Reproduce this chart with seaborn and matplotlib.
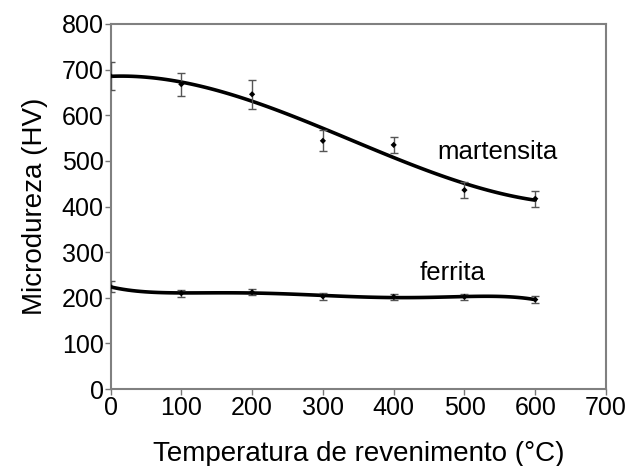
import matplotlib
matplotlib.use("Agg")
import matplotlib.pyplot as plt
import seaborn as sns
import numpy as np
import pandas as pd

# Tempering temperature (°C)
temperatura = [0, 100, 200, 300, 400, 500, 600]

# Microhardness (HV) and error bars
martensita_hv = [686, 668, 646, 544, 535, 436, 417]
martensita_err = [30, 25, 32, 23, 18, 18, 18]
ferrita_hv = [224, 210, 212, 203, 202, 202, 196]
ferrita_err = [12, 8, 7, 7, 7, 6, 7]

x_ticks = [0, 100, 200, 300, 400, 500, 600, 700]
y_ticks = [0, 100, 200, 300, 400, 500, 600, 700, 800]

sns.set_theme(style="white")
plt.rcParams["font.family"] = ["Liberation Sans", "DejaVu Sans"]
plt.rcParams["text.color"] = "black"
plt.rcParams["axes.labelcolor"] = "black"
plt.rcParams["xtick.color"] = "black"
plt.rcParams["ytick.color"] = "black"

df_m = pd.DataFrame({"T": temperatura, "HV": martensita_hv})
df_f = pd.DataFrame({"T": temperatura, "HV": ferrita_hv})

fig = plt.figure(figsize=(6.3, 4.66), dpi=100)
ax = fig.add_axes([0.1754, 0.1652, 0.7866, 0.7833])

line_kws = dict(color="black", lw=2.6, solid_capstyle="round")
sns.regplot(data=df_m, x="T", y="HV", order=3, ci=None, scatter=False,
            truncate=True, line_kws=line_kws, ax=ax)
sns.regplot(data=df_f, x="T", y="HV", order=5, ci=None, scatter=False,
            truncate=True, line_kws=line_kws, ax=ax)

for hv, err in [(martensita_hv, martensita_err), (ferrita_hv, ferrita_err)]:
    ax.errorbar(temperatura, hv, yerr=err, fmt="none", ecolor="#555555",
                elinewidth=1.0, capsize=3, capthick=1.0, zorder=3)
    sns.scatterplot(x=temperatura, y=hv, marker="D", s=10, color="black",
                    edgecolor="none", ax=ax, zorder=4)

ax.text(547, 520, "martensita", fontsize=18.5, ha="center", va="center")
ax.text(483, 254, "ferrita", fontsize=18.5, ha="center", va="center")

ax.set_xlim(0, 700)
ax.set_ylim(0, 800)
ax.set_xticks(x_ticks)
ax.set_yticks(y_ticks)
ax.set_xlabel("Temperatura de revenimento (°C)", fontsize=20, labelpad=15)
ax.set_ylabel("Microdureza (HV)", fontsize=20, labelpad=10)
ax.tick_params(axis="both", labelsize=18, direction="out", length=4,
               width=1, color="#777777", labelcolor="black",
               bottom=True, left=True, pad=1)

for s in ax.spines.values():
    s.set_visible(True)
    s.set_color("#808080")
    s.set_linewidth(1.5)

fig.savefig("out.png", dpi=100, facecolor="white")
